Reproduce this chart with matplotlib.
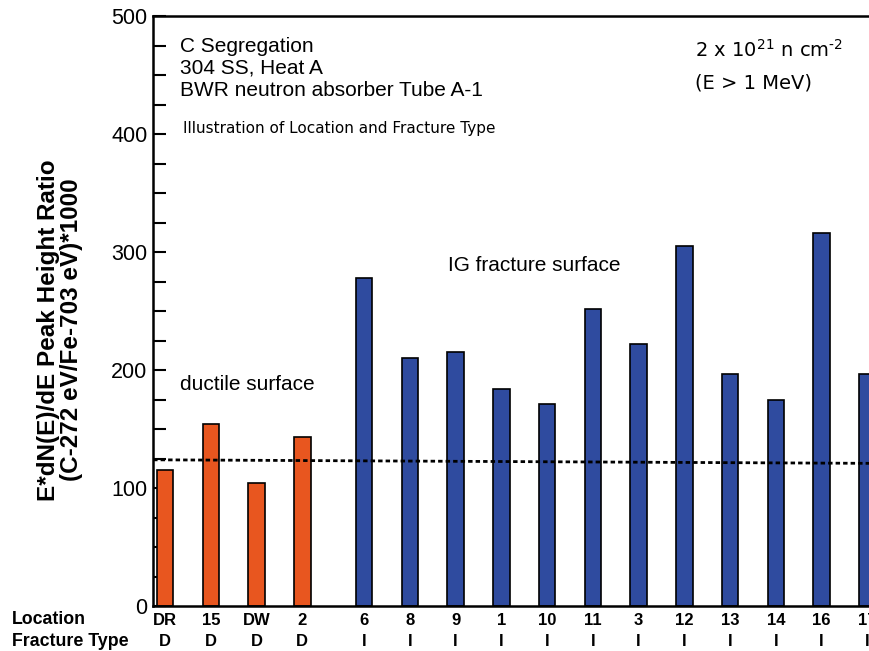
import numpy as np
import matplotlib
matplotlib.use("Agg")
import matplotlib.pyplot as plt

plt.rcParams['font.family'] = ['Liberation Sans', 'DejaVu Sans']
plt.rcParams['mathtext.fontset'] = 'custom'
plt.rcParams['mathtext.rm'] = 'DejaVu Sans'

# ductile surface (orange) and IG fracture surface (blue)
ductile_loc = ["DR", "15", "DW", "2"]
ductile_type = ["D", "D", "D", "D"]
ductile_val = [115, 154, 104, 143]

ig_loc = ["6", "8", "9", "1", "10", "11", "3", "12", "13", "14", "16", "17"]
ig_type = ["I"] * 12
ig_val = [278, 210, 215, 184, 171, 252, 222, 305, 197, 175, 316, 197]

# dotted reference level (left end, right end)
ref_level = [124, 121]

orange = "#e8561f"
blue = "#2f4b9f"

x_d = np.arange(len(ductile_val))
x_i = np.arange(len(ig_val)) + len(ductile_val) + 0.35
w = 0.36

fig = plt.figure(figsize=(8.7, 6.51), dpi=100)
ax = fig.add_axes([0.176, 0.069, 0.824, 0.906])

ax.bar(x_d, ductile_val, width=w, color=orange, edgecolor="black", linewidth=1.2, zorder=2)
ax.bar(x_i, ig_val, width=w, color=blue, edgecolor="black", linewidth=1.2, zorder=2)

xlim = (-0.262, 15.41)
ax.plot(xlim, ref_level, color="black", linestyle=(0, (1.6, 1.1)), linewidth=2.0, zorder=3)

ax.set_xlim(xlim)
ax.set_ylim(0, 500)
ax.set_yticks(range(0, 501, 100))
ax.set_yticks(range(0, 501, 25), minor=True)
ax.tick_params(axis="y", which="both", direction="in", length=9, width=1.5, labelsize=15.5, pad=4)
ax.tick_params(axis="x", which="both", bottom=False, labelbottom=False)
ax.spines["right"].set_visible(False)
for s in ["left", "top", "bottom"]:
    ax.spines[s].set_linewidth(1.8)

fig.text(60 / 870, 1 - 330 / 651, "E*dN(E)/dE Peak Height Ratio\n(C-272 eV/Fe-703 eV)*1000",
         rotation=90, ha="center", va="center", multialignment="center",
         fontsize=17.5, fontweight="bold", linespacing=0.95)

# category labels under the axis
trans = ax.get_xaxis_transform()
for xs, locs, types in [(x_d, ductile_loc, ductile_type), (x_i, ig_loc, ig_type)]:
    for x, l, t in zip(xs, locs, types):
        ax.text(x, -0.012, l, transform=trans, ha="center", va="top", fontsize=12, fontweight="bold")
        ax.text(x, -0.048, t, transform=trans, ha="center", va="top", fontsize=12, fontweight="bold")

fig.text(12 / 870, 1 - 619 / 651, "Location", ha="left", va="center", fontsize=12.8, fontweight="bold")
fig.text(12 / 870, 1 - 641 / 651, "Fracture Type", ha="left", va="center", fontsize=12.8, fontweight="bold")

for yy, line in zip([46, 68, 90], ["C Segregation", "304 SS, Heat A", "BWR neutron absorber Tube A-1"]):
    fig.text(180 / 870, 1 - yy / 651, line, ha="left", va="center", fontsize=15)
fig.text(183 / 870, 1 - 128 / 651, "Illustration of Location and Fracture Type",
         ha="left", va="center", fontsize=11, family="DejaVu Sans")
fig.text(695 / 870, 1 - 50 / 651, "2 x 10$^{21}$ n cm$^{\u20102}$",
         ha="left", va="center", fontsize=14, family="DejaVu Sans")
fig.text(695 / 870, 1 - 83 / 651, "(E > 1 MeV)", ha="left", va="center", fontsize=14, family="DejaVu Sans")
fig.text(448 / 870, 1 - 265 / 651, "IG fracture surface", ha="left", va="center", fontsize=15)
fig.text(180 / 870, 1 - 385 / 651, "ductile surface", ha="left", va="center", fontsize=15)

fig.savefig("out.png", dpi=100)
